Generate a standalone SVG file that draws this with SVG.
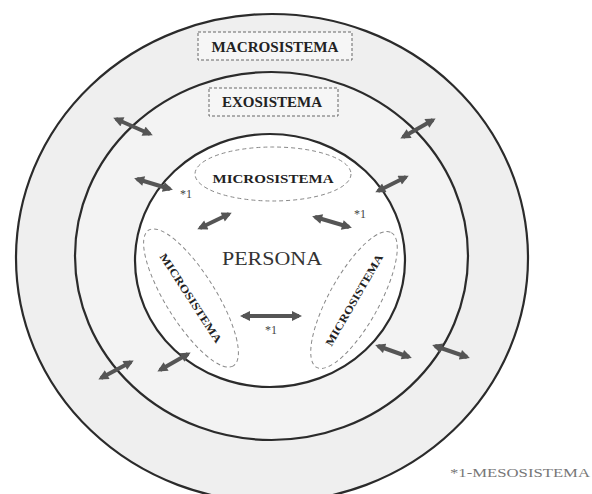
<svg xmlns="http://www.w3.org/2000/svg" width="592" height="494" viewBox="0 0 592 494">
<style>
.ring{stroke:#2b2b2b;stroke-width:2.2}
.box{fill:#f6f6f6;stroke:#666;stroke-width:1;stroke-dasharray:3 2}
.ell{fill:#ffffff;stroke:#888;stroke-width:1;stroke-dasharray:4 3}
.lbl{font-family:"Liberation Serif",serif;font-weight:bold;fill:#222;text-anchor:middle}
.star{font-family:"Liberation Serif",serif;font-size:12px;fill:#444;text-anchor:middle}
.arr{stroke:#555555;stroke-width:4;fill:none;marker-start:url(#ah);marker-end:url(#ah)}
</style>
<defs>
<marker id="ah" viewBox="0 0 10 10" refX="7" refY="5" markerUnits="userSpaceOnUse" markerWidth="11" markerHeight="10" orient="auto-start-reverse">
<path d="M0,0 L10,5 L0,10 z" fill="#555555"/>
</marker>
</defs>
<rect width="592" height="494" fill="#ffffff"/>
<g id="macrosistema">
<ellipse class="ring" cx="272" cy="258" rx="256" ry="244" fill="#efefef"/>
<rect class="box" x="198" y="32" width="154" height="28"/>
<text class="lbl" x="275" y="52" font-size="15" textLength="127" lengthAdjust="spacingAndGlyphs">MACROSISTEMA</text>
</g>
<g id="exosistema">
<ellipse class="ring" cx="271.5" cy="256" rx="196.5" ry="184" fill="#f3f3f3"/>
<rect class="box" x="209" y="88" width="129" height="28"/>
<text class="lbl" x="272" y="107" font-size="14" textLength="100" lengthAdjust="spacingAndGlyphs">EXOSISTEMA</text>
</g>
<g id="persona">
<ellipse class="ring" cx="270" cy="260.5" rx="135" ry="126.5" fill="#ffffff"/>
<text x="272" y="265" font-family="Liberation Serif, serif" font-size="19" fill="#333" text-anchor="middle" textLength="100" lengthAdjust="spacingAndGlyphs">PERSONA</text>
</g>
<g id="microsistema-top">
<ellipse class="ell" cx="273" cy="174" rx="78" ry="27"/>
<text class="lbl" x="273" y="183" font-size="13" textLength="121" lengthAdjust="spacingAndGlyphs">MICROSISTEMA</text>
</g>
<g id="microsistema-left">
<ellipse class="ell" cx="191" cy="298" rx="80" ry="25" transform="rotate(58 191 298)"/>
<text class="lbl" x="191" y="302" font-size="11" textLength="104" lengthAdjust="spacingAndGlyphs" transform="rotate(57 191 298)">MICROSISTEMA</text>
</g>
<g id="microsistema-right">
<ellipse class="ell" cx="354" cy="300" rx="77" ry="25" transform="rotate(-61 354 300)"/>
<text class="lbl" x="354" y="304" font-size="11" textLength="104" lengthAdjust="spacingAndGlyphs" transform="rotate(-60 354 300)">MICROSISTEMA</text>
</g>
<g id="connectors">
<line class="arr" x1="116" y1="119" x2="150" y2="134"/>
<line class="arr" x1="403" y1="137" x2="433" y2="120"/>
<line class="arr" x1="137" y1="179" x2="170" y2="189"/>
<line class="arr" x1="378" y1="191" x2="406" y2="177"/>
<line class="arr" x1="200" y1="228" x2="229" y2="214"/>
<line class="arr" x1="315" y1="217" x2="349" y2="227"/>
<line class="arr" x1="243" y1="316" x2="299" y2="316"/>
<line class="arr" x1="160" y1="370" x2="188" y2="354"/>
<line class="arr" x1="101" y1="378" x2="131" y2="362"/>
<line class="arr" x1="378" y1="346" x2="409" y2="357"/>
<line class="arr" x1="435" y1="346" x2="467" y2="357"/>
</g>
<g id="labels">
<text class="star" x="186" y="198">*1</text>
<text class="star" x="360" y="218">*1</text>
<text class="star" x="271" y="334">*1</text>
</g>
<g id="legend">
<text x="450" y="477" font-family="Liberation Serif, serif" font-size="12" fill="#777" textLength="140" lengthAdjust="spacingAndGlyphs">*1-MESOSISTEMA</text>
</g>
</svg>
